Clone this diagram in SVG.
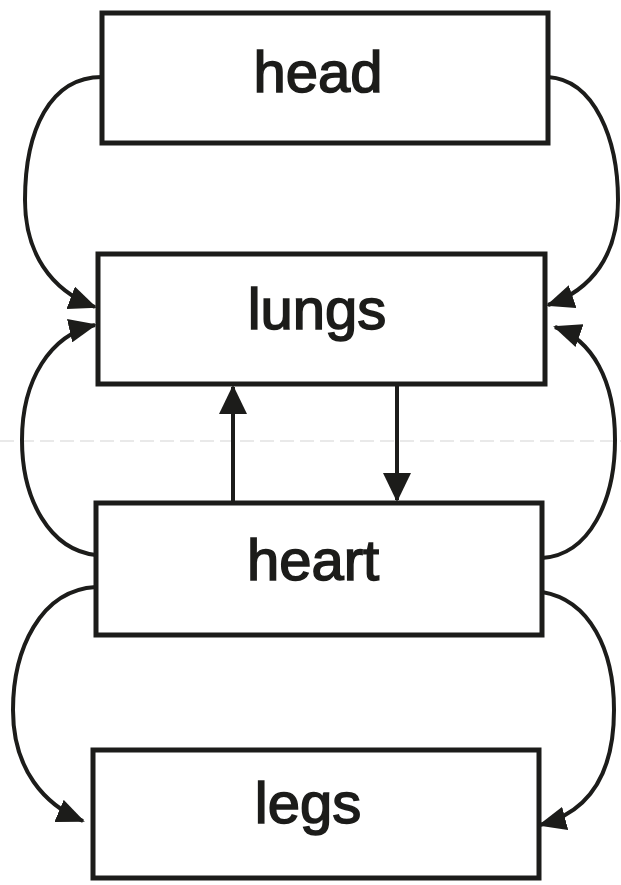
<svg xmlns="http://www.w3.org/2000/svg" width="621" height="885" viewBox="0 0 621 885">
<style>
.box{fill:#fff;stroke:#1c1c1a;stroke-width:5}
.lbl{font-family:"Liberation Sans",Arial,sans-serif;font-size:58px;fill:#1c1c1a;stroke:#1c1c1a;stroke-width:1.6;text-anchor:middle}
.con{fill:none;stroke:#1c1c1a;stroke-width:4}
.side{marker-end:url(#ah)}
.str{marker-end:url(#ahb)}
</style>
<defs>
<marker id="ah" markerUnits="userSpaceOnUse" markerWidth="28" markerHeight="24" refX="26" refY="12" orient="auto">
<path d="M0,0 L28,12 L0,24 z" fill="#1c1c1a"/>
</marker>
<marker id="ahb" markerUnits="userSpaceOnUse" markerWidth="29" markerHeight="28" refX="27" refY="14" orient="auto">
<path d="M0,0 L29,14 L0,28 z" fill="#1c1c1a"/>
</marker>
</defs>
<rect width="621" height="885" fill="#fff"/>
<line x1="0" y1="441" x2="621" y2="441" stroke="#e2e2e2" stroke-width="1.5" stroke-dasharray="14 6"/>
<g id="connectors">
<path class="con side" d="M102,77 C50,77 25,130 25,200 C25,252 50,290 95,307"/>
<path class="con side" d="M548,77 C595,80 618,140 618,200 C618,255 592,290 548,305"/>
<path class="con side" d="M96,555 C50,550 22,500 22,440 C22,380 50,335 95,325"/>
<path class="con side" d="M542,558 C590,555 615,500 615,440 C615,380 592,340 555,327"/>
<path class="con side" d="M96,587 C40,590 13,650 13,710 C13,770 45,805 83,821"/>
<path class="con side" d="M542,592 C590,600 614,650 614,710 C614,772 590,812 540,825"/>
<path class="con str" d="M233,502 L233,387"/>
<path class="con str" d="M397,385 L397,500"/>
</g>
<g id="head">
<rect class="box" x="102" y="13" width="446" height="130"/>
<text class="lbl" x="318" y="92">head</text>
</g>
<g id="lungs">
<rect class="box" x="98" y="254" width="447" height="130"/>
<text class="lbl" x="317" y="329">lungs</text>
</g>
<g id="heart">
<rect class="box" x="96" y="503" width="446" height="132"/>
<text class="lbl" x="313" y="580">heart</text>
</g>
<g id="legs">
<rect class="box" x="93" y="750" width="446" height="128"/>
<text class="lbl" x="308" y="823">legs</text>
</g>
</svg>
